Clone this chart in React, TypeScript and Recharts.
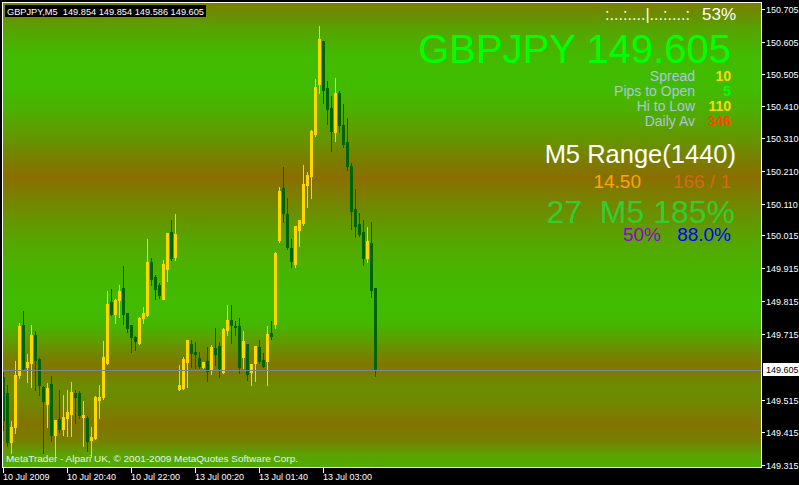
import React from 'react';
import { ComposedChart, Bar, XAxis, YAxis, CartesianGrid, ReferenceLine } from 'recharts';

// ---- Data (M5 candles, GBPJPY) ----
const opens = [
  149.584, 149.535, 149.386, 149.431, 149.590, 149.742, 149.614, 149.626, 149.712, 149.638,
  149.553, 149.501, 149.562, 149.407, 149.456, 149.425, 149.459, 149.471, 149.535, 149.535,
  149.462, 149.459, 149.392, 149.398, 149.514, 149.523, 149.626, 149.812, 149.776, 149.818,
  149.855, 149.779, 149.742, 149.705, 149.687, 149.763, 149.772, 149.934, 149.888, 149.864,
  149.821, 149.913, 150.025, 149.949, 149.547, 149.550, 149.629, 149.684, 149.660, 149.642,
  149.614, 149.632, 149.608, 149.672, 149.678, 149.599, 149.727, 149.757, 149.739, 149.739,
  149.645, 149.684, 149.599, 149.626, 149.675, 149.635, 149.632, 149.718, 149.745, 150.001,
  150.159, 150.080, 149.976, 149.928, 150.031, 150.053, 150.168, 150.196, 150.324, 150.476,
  150.607, 150.464, 150.403, 150.330, 150.448, 150.351, 150.299, 150.226, 150.095, 150.050,
  150.025, 149.946, 149.992, 149.854,
];
const highs = [
  149.599, 149.559, 149.450, 149.632, 149.748, 149.785, 149.654, 149.742, 149.724, 149.642,
  149.556, 149.565, 149.587, 149.453, 149.544, 149.529, 149.544, 149.568, 149.544, 149.541,
  149.511, 149.465, 149.431, 149.526, 149.559, 149.693, 149.846, 149.852, 149.821, 149.864,
  149.922, 149.779, 149.742, 149.709, 149.766, 149.797, 150.004, 149.946, 149.894, 149.870,
  149.940, 150.022, 150.062, 150.080, 149.620, 149.645, 149.696, 149.696, 149.690, 149.660,
  149.629, 149.675, 149.681, 149.733, 149.690, 149.733, 149.803, 149.803, 149.754, 149.763,
  149.724, 149.684, 149.623, 149.678, 149.696, 149.657, 149.739, 149.754, 149.964, 150.162,
  150.223, 150.129, 150.004, 150.043, 150.062, 150.229, 150.208, 150.336, 150.491, 150.652,
  150.607, 150.485, 150.439, 150.494, 150.455, 150.415, 150.372, 150.235, 150.156, 150.083,
  150.062, 150.040, 150.056, 149.854,
];
const lows = [
  149.422, 149.374, 149.352, 149.413, 149.581, 149.605, 149.568, 149.553, 149.544, 149.529,
  149.352, 149.431, 149.389, 149.340, 149.416, 149.407, 149.404, 149.404, 149.444, 149.459,
  149.374, 149.358, 149.340, 149.395, 149.459, 149.517, 149.623, 149.772, 149.748, 149.766,
  149.745, 149.721, 149.660, 149.666, 149.684, 149.748, 149.769, 149.864, 149.821, 149.824,
  149.821, 149.876, 149.940, 149.940, 149.544, 149.547, 149.553, 149.614, 149.611, 149.611,
  149.611, 149.572, 149.593, 149.620, 149.584, 149.596, 149.712, 149.687, 149.712, 149.596,
  149.611, 149.575, 149.559, 149.572, 149.626, 149.614, 149.559, 149.699, 149.733, 149.995,
  150.056, 149.973, 149.919, 149.919, 149.983, 150.047, 150.101, 150.129, 150.318, 150.448,
  150.418, 150.354, 150.272, 150.302, 150.330, 150.284, 150.214, 150.034, 150.010, 150.013,
  149.925, 149.934, 149.827, 149.586,
];
const closes = [
  149.453, 149.386, 149.431, 149.590, 149.739, 149.611, 149.629, 149.712, 149.635, 149.559,
  149.511, 149.550, 149.407, 149.453, 149.425, 149.462, 149.477, 149.538, 149.523, 149.468,
  149.468, 149.389, 149.401, 149.523, 149.523, 149.645, 149.806, 149.776, 149.818, 149.846,
  149.776, 149.733, 149.705, 149.693, 149.763, 149.779, 149.934, 149.882, 149.852, 149.833,
  149.928, 150.022, 149.946, 150.019, 149.559, 149.638, 149.696, 149.657, 149.654, 149.617,
  149.629, 149.602, 149.675, 149.654, 149.611, 149.730, 149.757, 149.742, 149.736, 149.614,
  149.693, 149.593, 149.623, 149.678, 149.632, 149.617, 149.715, 149.709, 149.961, 150.150,
  150.083, 149.980, 149.937, 150.043, 150.062, 150.171, 150.199, 150.333, 150.467, 150.613,
  150.458, 150.400, 150.333, 150.448, 150.351, 150.293, 150.226, 150.089, 150.043, 150.019,
  149.946, 149.998, 149.849, 149.605,
];

const yTickValues = [
  150.705, 150.605, 150.505, 150.41, 150.31, 150.21, 150.11, 150.015,
  149.915, 149.815, 149.715, 149.605, 149.515, 149.415, 149.315,
];
const xTickSlots = [0, 16, 32, 48, 64, 80];
const xTickLabels = ['10 Jul 2009', '10 Jul 20:40', '10 Jul 22:00', '13 Jul 00:20', '13 Jul 01:40', '13 Jul 03:00'];
const currentPrice = 149.605;
const headerText = 'GBPJPY,M5  149.854 149.854 149.586 149.605';
const copyrightText = 'MetaTrader - Alpari UK, \u00A9 2001-2009 MetaQuotes Software Corp.';

// visible chart window holds 190 bar slots (chart shifted, right part empty)
const TOTAL_SLOTS = 190;
const data = Array.from({ length: TOTAL_SLOTS }, (_, i) =>
  i < opens.length
    ? { slot: i, open: opens[i], high: highs[i], low: lows[i], close: closes[i], range: [lows[i], highs[i]] }
    : { slot: i }
);

const FONT = '"Liberation Sans", Arial, sans-serif';
const Y_DOMAIN: [number, number] = [149.3081, 150.7271];

// background stripes (y pixel, colour)
const bgStops: [number, string][] = [
  [2, '#7a7f00'], [10, '#728600'], [28, '#58a200'], [55, '#42ba00'], [85, '#40bc00'],
  [110, '#4cb000'], [140, '#669400'], [162, '#7c7c00'], [178, '#8a6e00'], [192, '#7e7c00'],
  [212, '#6c8e00'], [240, '#56a600'], [275, '#46b600'], [305, '#40bc00'], [325, '#46b600'],
  [348, '#6a9000'], [364, '#807600'], [372, '#7c7c00'], [388, '#6a8e00'], [405, '#728600'],
  [424, '#827400'], [440, '#787e00'], [455, '#5aa200'], [468, '#4eae00'],
];

function Candle(props: any) {
  const { x, y, height, payload } = props;
  if (!payload || payload.open == null || x == null || y == null) return null;
  const top = Math.min(y, y + height);
  const h = Math.abs(height);
  const span = payload.high - payload.low;
  const toY = (v: number) => (span > 0 ? top + ((payload.high - v) / span) * h : top);
  const bull = payload.close > payload.open;
  const color = bull ? '#FFD700' : '#006400';
  const x0 = Math.round(x);
  const yo = toY(payload.open);
  const yc = toY(payload.close);
  const bTop = Math.floor(Math.min(yo, yc));
  const bBot = Math.floor(Math.max(yo, yc));
  const wTop = Math.floor(top);
  const wBot = Math.floor(top + h);
  return (
    <g shapeRendering="crispEdges">
      <rect x={x0 + 1} y={wTop} width={1} height={Math.max(1, wBot - wTop + 1)} fill={color} />
      <rect x={x0} y={bTop} width={3} height={Math.max(1, bBot - bTop + 1)} fill={color} />
    </g>
  );
}

function YTick(props: any) {
  const { x, y, payload } = props;
  const v = payload.value as number;
  const label = v.toFixed(3);
  const yy = Math.floor(y);
  if (Math.abs(v - currentPrice) < 1e-9) {
    return (
      <g shapeRendering="crispEdges">
        <rect x={x + 1} y={yy - 7} width={40} height={13} fill="#ffffff" />
        <text x={x + 4} y={yy + 3} fill="#000000" fontSize={9} fontFamily={FONT}>{label}</text>
      </g>
    );
  }
  return (
    <g>
      <rect x={x} y={yy} width={3} height={1} fill="#ffffff" shapeRendering="crispEdges" />
      <text x={x + 4} y={yy + 3.5} fill="#ffffff" fontSize={9} fontFamily={FONT}>{label}</text>
    </g>
  );
}

function XTick(props: any) {
  const { x, y, payload } = props;
  const k = xTickSlots.indexOf(payload.value);
  if (k < 0) return <g />;
  return (
    <g>
      <rect x={Math.round(x) - 1} y={y} width={1} height={5} fill="#ffffff" shapeRendering="crispEdges" />
      <text x={Math.round(x) - 1} y={y + 12} fill="#ffffff" fontSize={9} fontFamily={FONT}>{xTickLabels[k]}</text>
    </g>
  );
}

export default function App() {
  return (
    <div style={{ position: 'absolute', left: 0, top: 0, width: 799, height: 485, background: '#000', overflow: 'hidden' }}>
      <ComposedChart
        width={799}
        height={485}
        data={data}
        margin={{ top: 2, right: 0, bottom: 0, left: 2 }}
        barCategoryGap={0}
        barGap={0}
      >
        <defs>
          <linearGradient id="mtBg" x1="0" y1="0" x2="0" y2="1">
            {bgStops.map(([py, c], i) => (
              <stop key={i} offset={(py - 2) / 466} stopColor={c} />
            ))}
          </linearGradient>
        </defs>
        <CartesianGrid horizontal={false} vertical={false} fill="url(#mtBg)" fillOpacity={1} stroke="none" />
        <XAxis
          dataKey="slot"
          type="category"
          interval={0}
          height={17}
          tickLine={false}
          axisLine={false}
          tickSize={0}
          tickMargin={0}
          tick={<XTick />}
        />
        <YAxis
          orientation="right"
          type="number"
          domain={Y_DOMAIN}
          allowDataOverflow
          ticks={yTickValues}
          interval={0}
          width={37}
          tickLine={false}
          axisLine={false}
          tickSize={0}
          tickMargin={0}
          tick={<YTick />}
        />
        <ReferenceLine y={currentPrice} stroke="#778899" strokeWidth={1} shapeRendering="crispEdges" />
        <Bar dataKey="range" barSize={4} shape={<Candle />} isAnimationActive={false} />
      </ComposedChart>

      <svg
        width={799}
        height={485}
        style={{ position: 'absolute', left: 0, top: 0, pointerEvents: 'none' }}
        fontFamily={FONT}
      >
        {/* chart frame */}
        <rect x={2.5} y={2.5} width={759} height={465} fill="none" stroke="#ffffff" strokeWidth={1} />

        {/* header */}
        <rect x={5} y={5} width={201} height={12} fill="#000000" />
        <text x={7} y={15} fill="#ffffff" fontSize={9} textLength={197} lengthAdjust="spacingAndGlyphs" style={{ whiteSpace: 'pre' }}>
          {headerText}
        </text>

        {/* copyright */}
        <text x={6} y={462} fill="#e6f2f2" fontSize={9} textLength={292} lengthAdjust="spacingAndGlyphs">
          {copyrightText}
        </text>

        {/* indicator panel */}
        <text x={605} y={20} fill="#ffffff" fontSize={17} textLength={85} lengthAdjust="spacingAndGlyphs">:...:....|...:....:</text>
        <text x={736} y={20} fill="#ffffff" fontSize={17} textAnchor="end">53%</text>

        <text x={731} y={63} fill="#00ff00" fontSize={40} textAnchor="end">GBPJPY 149.605</text>

        <text x={695} y={81} fill="#b0c4de" fontSize={14} textAnchor="end">Spread</text>
        <text x={731} y={81} fill="#ffd700" fontSize={14} fontWeight="bold" textAnchor="end">10</text>
        <text x={695} y={96} fill="#b0c4de" fontSize={14} textAnchor="end">Pips to Open</text>
        <text x={731} y={96} fill="#00ff00" fontSize={14} fontWeight="bold" textAnchor="end">5</text>
        <text x={695} y={111} fill="#b0c4de" fontSize={14} textAnchor="end">Hi to Low</text>
        <text x={731} y={111} fill="#ffd700" fontSize={14} fontWeight="bold" textAnchor="end">110</text>
        <text x={695} y={126} fill="#b0c4de" fontSize={14} textAnchor="end">Daily Av</text>
        <text x={731} y={126} fill="#ff4500" fontSize={14} fontWeight="bold" textAnchor="end">346</text>

        <text x={736} y={163} fill="#ffffff" fontSize={25.5} textAnchor="end">M5 Range(1440)</text>
        <text x={641} y={188} fill="#ffa500" fontSize={19} textAnchor="end">14.50</text>
        <text x={731} y={188} fill="#d2691e" fontSize={19} textAnchor="end">166 / 1</text>
        <text x={735} y={223} fill="#32cd32" fontSize={32} textAnchor="end" style={{ whiteSpace: 'pre' }}>27  M5 185%</text>
        <text x={661} y={241} fill="#9400d3" fontSize={19} textAnchor="end">50%</text>
        <text x={731} y={241} fill="#0000ff" fontSize={19} textAnchor="end">88.0%</text>
      </svg>
    </div>
  );
}
